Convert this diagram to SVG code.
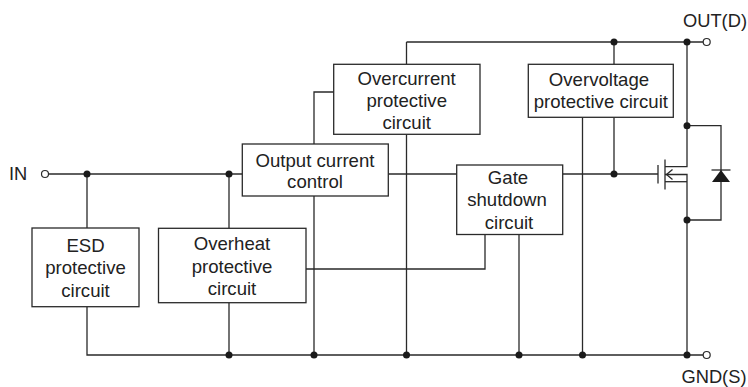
<svg xmlns="http://www.w3.org/2000/svg" width="748" height="387" viewBox="0 0 748 387">
<defs>
<style>
.box{fill:#fff;stroke:#2a2a2a;stroke-width:1.3}
.w{fill:none;stroke:#2a2a2a;stroke-width:1.3}
.dot{fill:#1a1a1a}
.term{fill:#fff;stroke:#2a2a2a;stroke-width:1.2}
text{font-family:"Liberation Sans",Arial,sans-serif;font-size:18.6px;fill:#222}
.c{text-anchor:middle}
.t{font-size:18.3px}
</style>
</defs>
<rect width="748" height="387" fill="#fff"/>
<g id="connectors">
<path class="w" d="M48.5,174 H242"/>
<path class="w" d="M87,174 V228 M87,306.7 V355 H703"/>
<path class="w" d="M229,174 V228 M229,302.7 V355"/>
<path class="w" d="M306,269 H485 V234"/>
<path class="w" d="M314,196 V355 M314,144 V92 H334"/>
<path class="w" d="M406.5,42 V64.3 M406.5,134.3 V355 M406.5,42 H703"/>
<path class="w" d="M388,174 H457"/>
<path class="w" d="M563,174 H658"/>
<path class="w" d="M614,42 V64.3 M614,117.3 V174"/>
<path class="w" d="M582.5,117.3 V355"/>
<path class="w" d="M519,234 V355"/>
<!-- MOSFET -->
<path class="w" d="M658,165 V183.5"/>
<path class="w" d="M665,159.5 V189.5"/>
<path class="w" d="M665,166.7 H687 V42"/>
<path class="w" d="M665,174.5 H687 V355"/>
<path class="w" d="M665,181.7 H687"/>
<path class="w" d="M672.5,169.5 L666.5,174.5 L672.5,179.5"/>
<!-- diode -->
<path class="w" d="M687,125.7 H721 V220 H687"/>
<path class="w" d="M711.5,170 H730.5"/>
<polygon points="721,170 712,182 730,182" fill="#1a1a1a"/>
</g>
<g id="dots">
<circle class="dot" cx="87" cy="174" r="3.5"/>
<circle class="dot" cx="229" cy="174" r="3.5"/>
<circle class="dot" cx="614" cy="42" r="3.5"/>
<circle class="dot" cx="687" cy="42" r="3.5"/>
<circle class="dot" cx="614" cy="174" r="3.5"/>
<circle class="dot" cx="687" cy="125.7" r="3.5"/>
<circle class="dot" cx="687" cy="220" r="3.5"/>
<circle class="dot" cx="229" cy="355" r="3.5"/>
<circle class="dot" cx="314" cy="355" r="3.5"/>
<circle class="dot" cx="406.5" cy="355" r="3.5"/>
<circle class="dot" cx="519" cy="355" r="3.5"/>
<circle class="dot" cx="582.5" cy="355" r="3.5"/>
<circle class="dot" cx="687" cy="355" r="3.5"/>
</g>
<g id="in">
<circle class="term" cx="45" cy="174" r="3.5"/>
<text class="t" x="9" y="180">IN</text>
</g>
<g id="out">
<circle class="term" cx="706.7" cy="42" r="3.5"/>
<text class="t" x="683" y="26.5">OUT(D)</text>
</g>
<g id="gnd">
<circle class="term" cx="706.7" cy="355" r="3.5"/>
<text class="t" x="681.5" y="383">GND(S)</text>
</g>
<g id="esd">
<rect class="box" x="32" y="228" width="107" height="78.7"/>
<text class="c" x="85.5" y="251.5">ESD</text>
<text class="c" x="85.5" y="274">protective</text>
<text class="c" x="85.5" y="296.5">circuit</text>
</g>
<g id="overheat">
<rect class="box" x="158.5" y="228.3" width="147.5" height="74.4"/>
<text class="c" x="232" y="250">Overheat</text>
<text class="c" x="232" y="272.5">protective</text>
<text class="c" x="232" y="295">circuit</text>
</g>
<g id="output-current-control">
<rect class="box" x="242.3" y="144" width="146" height="52"/>
<text class="c" x="315" y="166.5">Output current</text>
<text class="c" x="315" y="188">control</text>
</g>
<g id="overcurrent">
<rect class="box" x="333.7" y="64.3" width="146.3" height="70"/>
<text class="c" x="406.7" y="84.5">Overcurrent</text>
<text class="c" x="406.7" y="106.5">protective</text>
<text class="c" x="406.7" y="128.5">circuit</text>
</g>
<g id="overvoltage">
<rect class="box" x="528.3" y="64.3" width="145" height="53"/>
<text class="c" x="599" y="85.5">Overvoltage</text>
<text class="c" x="600.8" y="108">protective circuit</text>
</g>
<g id="gate-shutdown">
<rect class="box" x="456.7" y="165" width="106" height="69.5"/>
<text class="c" x="508" y="183.5">Gate</text>
<text class="c" x="507" y="206">shutdown</text>
<text class="c" x="509" y="228.5">circuit</text>
</g>
</svg>
